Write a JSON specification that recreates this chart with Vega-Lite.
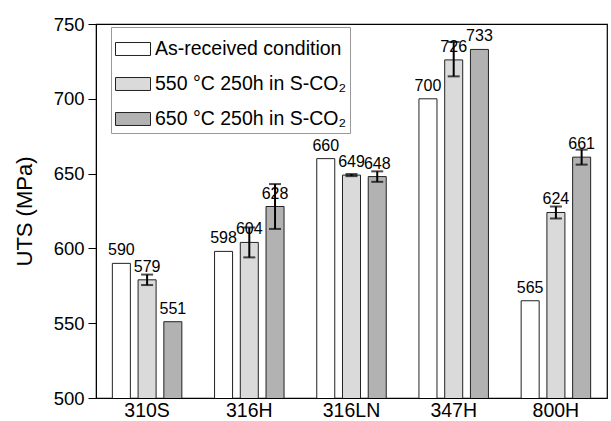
{
  "$schema": "https://vega.github.io/schema/vega-lite/v6.json",
  "autosize": "none",
  "width": 511,
  "height": 374,
  "padding": {"left": 96, "top": 24, "right": 4, "bottom": 23},
  "background": "white",
  "config": {
    "view": {"stroke": "black", "strokeWidth": 1.2},
    "font": "Liberation Sans"
  },
  "data": {
    "values": [
      {"alloy": "310S", "cond": "As-received condition", "uts": 590},
      {"alloy": "310S", "cond": "550 °C 250h in S-CO₂", "uts": 579, "lo": 575.5, "hi": 582.5},
      {"alloy": "310S", "cond": "650 °C 250h in S-CO₂", "uts": 551},
      {"alloy": "316H", "cond": "As-received condition", "uts": 598},
      {"alloy": "316H", "cond": "550 °C 250h in S-CO₂", "uts": 604, "lo": 594, "hi": 614},
      {"alloy": "316H", "cond": "650 °C 250h in S-CO₂", "uts": 628, "lo": 613, "hi": 643},
      {"alloy": "316LN", "cond": "As-received condition", "uts": 660},
      {"alloy": "316LN", "cond": "550 °C 250h in S-CO₂", "uts": 649, "lo": 648.3, "hi": 649.7},
      {"alloy": "316LN", "cond": "650 °C 250h in S-CO₂", "uts": 648, "lo": 644.5, "hi": 651.5},
      {"alloy": "347H", "cond": "As-received condition", "uts": 700},
      {"alloy": "347H", "cond": "550 °C 250h in S-CO₂", "uts": 726, "lo": 715, "hi": 738},
      {"alloy": "347H", "cond": "650 °C 250h in S-CO₂", "uts": 733},
      {"alloy": "800H", "cond": "As-received condition", "uts": 565},
      {"alloy": "800H", "cond": "550 °C 250h in S-CO₂", "uts": 624, "lo": 620, "hi": 628},
      {"alloy": "800H", "cond": "650 °C 250h in S-CO₂", "uts": 661, "lo": 656, "hi": 666}
    ]
  },
  "encoding": {
    "x": {
      "field": "alloy", "type": "nominal", "sort": null,
      "scale": {"paddingInner": 0.32, "paddingOuter": 0.16},
      "axis": {"title": null, "labelAngle": 0, "labelFontSize": 19.5, "labelColor": "black", "ticks": false, "domain": false, "labelPadding": 3}
    },
    "xOffset": {
      "field": "cond", "type": "nominal", "sort": null,
      "scale": {"paddingInner": 0.3, "paddingOuter": 0}
    }
  },
  "layer": [
    {
      "mark": {"type": "bar", "stroke": "#222", "strokeWidth": 1, "clip": true},
      "encoding": {
        "y": {
          "field": "uts", "type": "quantitative",
          "scale": {"domain": [500, 750], "nice": false, "zero": false},
          "axis": {
            "title": "UTS (MPa)", "titleFontSize": 22, "titleFontWeight": "normal", "titleColor": "black", "titlePadding": 17,
            "values": [500, 525, 550, 575, 600, 625, 650, 675, 700, 725, 750],
            "labelExpr": "datum.value % 50 === 0 ? datum.label : ''",
            "labelFontSize": 18.5, "labelColor": "black", "labelPadding": 4,
            "tickSize": {"condition": {"test": "datum.value % 50 === 0", "value": 8}, "value": 5},
            "tickColor": "black", "domainColor": "black", "grid": false
          }
        },
        "fill": {
          "field": "cond", "type": "nominal", "sort": null,
          "scale": {"domain": ["As-received condition", "550 °C 250h in S-CO₂", "650 °C 250h in S-CO₂"], "range": ["#ffffff", "#dadada", "#b2b2b2"]},
          "legend": {
            "title": null, "orient": "none", "legendX": 15, "legendY": 3,
            "symbolType": "M-1,-0.37H1V0.37H-1Z", "symbolSize": 1225,
            "symbolStrokeColor": "#222", "symbolStrokeWidth": 1,
            "labelFontSize": 19.5, "labelColor": "black", "labelLimit": 400,
            "rowPadding": 7, "labelOffset": 4,
            "strokeColor": "#999", "padding": 4, "fillColor": "white"
          }
        }
      }
    },
    {
      "mark": {"type": "text", "baseline": "alphabetic", "dy": -8, "fontSize": 16, "color": "black"},
      "encoding": {
        "y": {"field": "uts", "type": "quantitative"},
        "text": {"field": "uts", "type": "quantitative"}
      }
    },
    {
      "transform": [{"filter": "isValid(datum.lo)"}],
      "layer": [
        {
          "mark": {"type": "rule", "color": "black", "strokeWidth": 2},
          "encoding": {
            "y": {"field": "lo", "type": "quantitative"},
            "y2": {"field": "hi"}
          }
        },
        {
          "mark": {"type": "tick", "orient": "horizontal", "color": "black", "thickness": 2, "size": 12},
          "encoding": {"y": {"field": "lo", "type": "quantitative"}}
        },
        {
          "mark": {"type": "tick", "orient": "horizontal", "color": "black", "thickness": 2, "size": 12},
          "encoding": {"y": {"field": "hi", "type": "quantitative"}}
        }
      ]
    }
  ]
}
